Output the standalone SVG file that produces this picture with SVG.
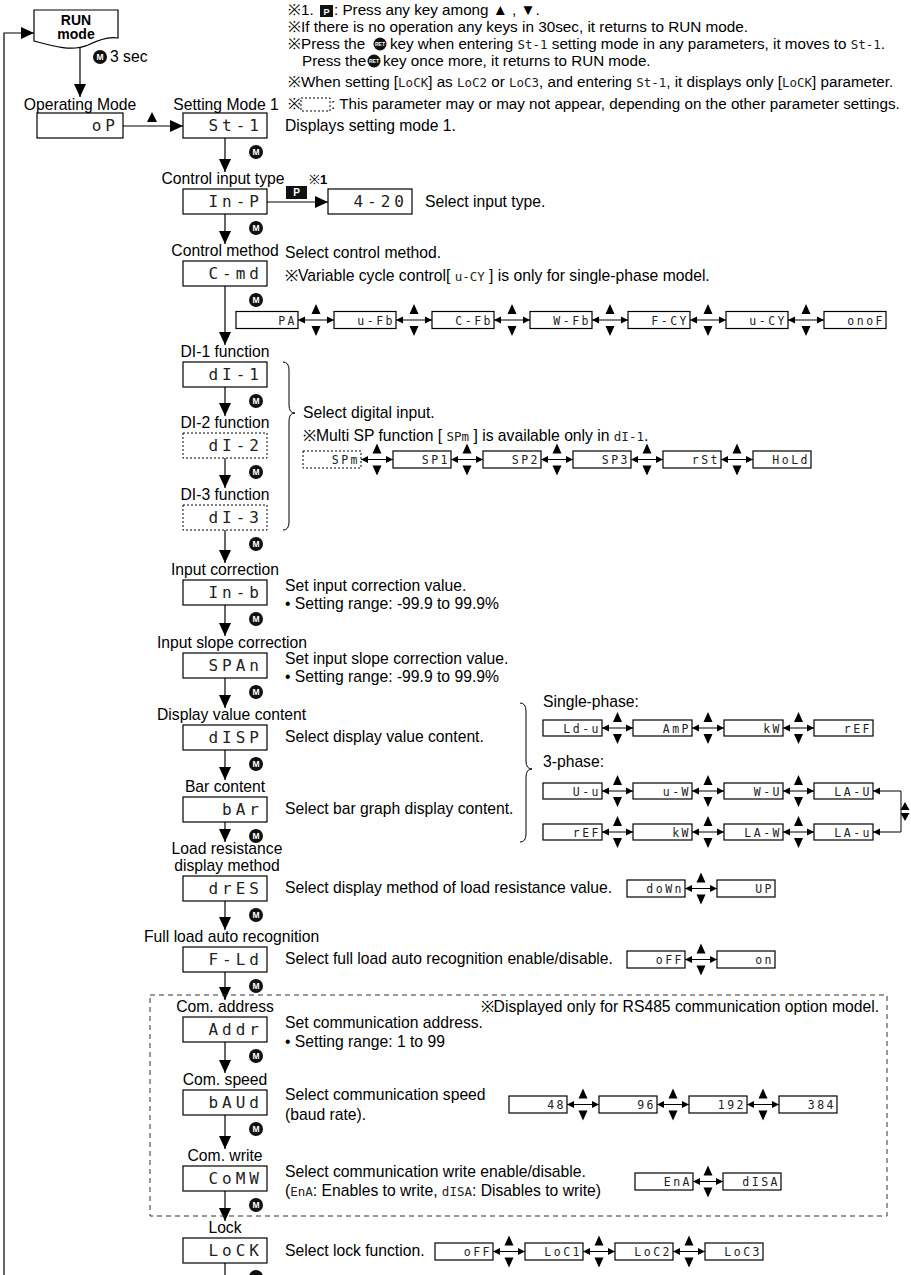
<svg xmlns="http://www.w3.org/2000/svg" xmlns:xlink="http://www.w3.org/1999/xlink" width="911" height="1275" viewBox="0 0 911 1275">
<style>
.bx{fill:#fff;stroke:#000;stroke-width:1.2}
.dt{fill:#fff;stroke:#000;stroke-width:1;stroke-dasharray:2 2}
.ln{fill:none;stroke:#000;stroke-width:1.2}
.dl{fill:none;stroke:#000;stroke-width:1}
.t{font-family:"Liberation Sans",Arial,sans-serif;font-size:15.7px;fill:#000}
.nt{font-family:"Liberation Sans",Arial,sans-serif;font-size:15.2px;fill:#000}
.c{text-anchor:middle}
.b{font-weight:bold}
.sg{font-family:"DejaVu Sans Mono",monospace;font-size:16px;letter-spacing:4px;text-anchor:end;fill:#222}
.so{font-family:"DejaVu Sans Mono",monospace;font-size:11.5px;letter-spacing:2.5px;text-anchor:end;fill:#222}
.si{font-family:"DejaVu Sans Mono",monospace;font-size:12.5px;fill:#222}
.mc{fill:#111}
.mt{font-family:"Liberation Sans",Arial,sans-serif;font-size:8.5px;font-weight:bold;fill:#fff;text-anchor:middle}
.rt{font-family:"Liberation Sans",Arial,sans-serif;font-size:5px;font-weight:bold;fill:#fff;text-anchor:middle}
.ah{fill:#000}
</style>
<defs>
<marker id="ah" markerUnits="userSpaceOnUse" markerWidth="14" markerHeight="12" refX="13" refY="6" orient="auto"><path d="M0,0 L13,6 L0,12 Z" class="ah"/></marker>
<marker id="as" markerUnits="userSpaceOnUse" markerWidth="8" markerHeight="8" refX="7" refY="4" orient="auto-start-reverse"><path d="M0,0.5 L7,4 L0,7.5 Z" class="ah"/></marker>
<path id="ud" d="M0,-16 L-4.5,-6 L4.5,-6 Z M0,16 L-4.5,6 L4.5,6 Z" class="ah"/>
</defs>
<rect width="911" height="1275" fill="#fff"/>

<!-- notes -->
<g id="notes" class="nt">
<text x="288" y="15">※1. <tspan x="334">: Press any key among ▲ , ▼.</tspan></text>
<rect x="320" y="5" width="13" height="12" fill="#111"/>
<text x="326.5" y="14.5" class="c b" style="font-family:'Liberation Sans',Arial,sans-serif;font-size:9px;fill:#fff">P</text>
<text x="288" y="32" textLength="460" lengthAdjust="spacingAndGlyphs">※If there is no operation any keys in 30sec, it returns to RUN mode.</text>
<text x="288" y="49">※Press the<tspan x="390">key when entering </tspan><tspan class="si">St-1</tspan> setting mode in any parameters, it moves to <tspan class="si">St-1</tspan>.</text>
<circle cx="380" cy="44" r="6.5" class="mc"/>
<text x="380" y="46" class="rt">RET</text>
<text x="302" y="66">Press the<tspan x="383">key once more, it returns to RUN mode.</tspan></text>
<circle cx="374" cy="61" r="6.5" class="mc"/>
<text x="374" y="63" class="rt">RET</text>
<text x="288" y="87">※When setting [<tspan class="si">LoCK</tspan>] as <tspan class="si">LoC2</tspan> or <tspan class="si">LoC3</tspan>, and entering <tspan class="si">St-1</tspan>, it displays only [<tspan class="si">LoCK</tspan>] parameter.</text>
<text x="288" y="109">※<tspan x="331">: This parameter may or may not appear, depending on the other parameter settings.</tspan></text>
<rect x="301" y="98" width="29" height="13" class="dt"/>
</g>

<!-- connectors -->
<g id="connectors">
<path class="ln" d="M4,1275 V33 H34" marker-end="url(#ah)"/>
<path class="ln" d="M80,47 V97" marker-end="url(#ah)"/>
<path class="ln" d="M123,126 H183" marker-end="url(#ah)"/>
<polygon points="152,112 147,122 157,122" class="ah"/>
<path class="ln" d="M225,138 V172" marker-end="url(#ah)"/>
<path class="ln" d="M267,202 H328" marker-end="url(#ah)"/>
<path class="ln" d="M225,214 V244" marker-end="url(#ah)"/>
<path class="ln" d="M225,286 V345" marker-end="url(#ah)"/>
<path class="ln" d="M225,387 V416" marker-end="url(#ah)"/>
<path class="ln" d="M225,458 V488" marker-end="url(#ah)"/>
<path class="ln" d="M225,530 V563" marker-end="url(#ah)"/>
<path class="ln" d="M225,605 V636" marker-end="url(#ah)"/>
<path class="ln" d="M225,678 V708" marker-end="url(#ah)"/>
<path class="ln" d="M225,750 V780" marker-end="url(#ah)"/>
<path class="ln" d="M225,822 V842" marker-end="url(#ah)"/>
<path class="ln" d="M225,901 V930" marker-end="url(#ah)"/>
<path class="ln" d="M225,972 V1000" marker-end="url(#ah)"/>
<path class="ln" d="M225,1042 V1073" marker-end="url(#ah)"/>
<path class="ln" d="M225,1115 V1149" marker-end="url(#ah)"/>
<path class="ln" d="M225,1191 V1221" marker-end="url(#ah)"/>
<path class="ln" d="M225,1263 V1275"/>
<g class="dl">
<line x1="298" y1="320" x2="334" y2="320" marker-start="url(#as)" marker-end="url(#as)"/>
<line x1="396" y1="320" x2="432" y2="320" marker-start="url(#as)" marker-end="url(#as)"/>
<line x1="494" y1="320" x2="530" y2="320" marker-start="url(#as)" marker-end="url(#as)"/>
<line x1="592" y1="320" x2="628" y2="320" marker-start="url(#as)" marker-end="url(#as)"/>
<line x1="690" y1="320" x2="726" y2="320" marker-start="url(#as)" marker-end="url(#as)"/>
<line x1="788" y1="320" x2="824" y2="320" marker-start="url(#as)" marker-end="url(#as)"/>
<line x1="361" y1="459.5" x2="393" y2="459.5" marker-start="url(#as)" marker-end="url(#as)"/>
<line x1="451" y1="459.5" x2="483" y2="459.5" marker-start="url(#as)" marker-end="url(#as)"/>
<line x1="541" y1="459.5" x2="573" y2="459.5" marker-start="url(#as)" marker-end="url(#as)"/>
<line x1="631" y1="459.5" x2="663" y2="459.5" marker-start="url(#as)" marker-end="url(#as)"/>
<line x1="721" y1="459.5" x2="753" y2="459.5" marker-start="url(#as)" marker-end="url(#as)"/>
<line x1="602" y1="728" x2="633" y2="728" marker-start="url(#as)" marker-end="url(#as)"/>
<line x1="692" y1="728" x2="724" y2="728" marker-start="url(#as)" marker-end="url(#as)"/>
<line x1="783" y1="728" x2="814" y2="728" marker-start="url(#as)" marker-end="url(#as)"/>
<line x1="602" y1="791" x2="633" y2="791" marker-start="url(#as)" marker-end="url(#as)"/>
<line x1="692" y1="791" x2="724" y2="791" marker-start="url(#as)" marker-end="url(#as)"/>
<line x1="783" y1="791" x2="814" y2="791" marker-start="url(#as)" marker-end="url(#as)"/>
<line x1="602" y1="832" x2="633" y2="832" marker-start="url(#as)" marker-end="url(#as)"/>
<line x1="692" y1="832" x2="724" y2="832" marker-start="url(#as)" marker-end="url(#as)"/>
<line x1="783" y1="832" x2="814" y2="832" marker-start="url(#as)" marker-end="url(#as)"/>
<path d="M873,791 H901 V832 H873" marker-start="url(#as)" marker-end="url(#as)"/>
<line x1="685" y1="888.5" x2="717" y2="888.5" marker-start="url(#as)" marker-end="url(#as)"/>
<line x1="685" y1="959.5" x2="717" y2="959.5" marker-start="url(#as)" marker-end="url(#as)"/>
<line x1="567" y1="1104.5" x2="599" y2="1104.5" marker-start="url(#as)" marker-end="url(#as)"/>
<line x1="657" y1="1104.5" x2="689" y2="1104.5" marker-start="url(#as)" marker-end="url(#as)"/>
<line x1="747" y1="1104.5" x2="779" y2="1104.5" marker-start="url(#as)" marker-end="url(#as)"/>
<line x1="693" y1="1181.5" x2="723" y2="1181.5" marker-start="url(#as)" marker-end="url(#as)"/>
<line x1="493" y1="1251.5" x2="525" y2="1251.5" marker-start="url(#as)" marker-end="url(#as)"/>
<line x1="583" y1="1251.5" x2="615" y2="1251.5" marker-start="url(#as)" marker-end="url(#as)"/>
<line x1="673" y1="1251.5" x2="705" y2="1251.5" marker-start="url(#as)" marker-end="url(#as)"/>
</g>
<use href="#ud" x="316" y="320"/><use href="#ud" x="414" y="320"/><use href="#ud" x="512" y="320"/><use href="#ud" x="610" y="320"/><use href="#ud" x="708" y="320"/><use href="#ud" x="806" y="320"/>
<use href="#ud" x="377" y="459.5"/><use href="#ud" x="467" y="459.5"/><use href="#ud" x="557" y="459.5"/><use href="#ud" x="647" y="459.5"/><use href="#ud" x="737" y="459.5"/>
<use href="#ud" x="617.5" y="728"/><use href="#ud" x="708" y="728"/><use href="#ud" x="798.5" y="728"/>
<use href="#ud" x="617.5" y="791"/><use href="#ud" x="708" y="791"/><use href="#ud" x="798.5" y="791"/>
<use href="#ud" x="617.5" y="832"/><use href="#ud" x="708" y="832"/><use href="#ud" x="798.5" y="832"/>
<polygon points="905,802 900.5,810 909.5,810" class="ah"/><polygon points="905,821 900.5,813 909.5,813" class="ah"/>
<use href="#ud" x="701" y="888.5"/>
<use href="#ud" x="701" y="959.5"/>
<use href="#ud" x="583" y="1104.5"/><use href="#ud" x="673" y="1104.5"/><use href="#ud" x="763" y="1104.5"/>
<use href="#ud" x="708" y="1181.5"/>
<use href="#ud" x="509" y="1251.5"/><use href="#ud" x="599" y="1251.5"/><use href="#ud" x="689" y="1251.5"/>
<path class="dl" d="M283,362 Q289,362 289,370 V405 Q289,413 295,413 Q289,413 289,421 V522 Q289,530 283,530"/>
<path class="dl" d="M520,703 Q526,703 526,711 V761 Q526,769 532,769 Q526,769 526,777 V834 Q526,842 520,842"/>
<rect x="150" y="995" width="737" height="221" fill="none" stroke="#333" stroke-width="1" stroke-dasharray="5 4"/>
</g>

<!-- M key circles -->
<g id="mkeys">
<circle cx="100" cy="57" r="7" class="mc"/><text x="100" y="60" class="mt">M</text>
<circle cx="256" cy="152" r="7" class="mc"/><text x="256" y="155" class="mt">M</text>
<circle cx="256" cy="228" r="7" class="mc"/><text x="256" y="231" class="mt">M</text>
<circle cx="256" cy="300" r="7" class="mc"/><text x="256" y="303" class="mt">M</text>
<circle cx="256" cy="401" r="7" class="mc"/><text x="256" y="404" class="mt">M</text>
<circle cx="256" cy="472" r="7" class="mc"/><text x="256" y="475" class="mt">M</text>
<circle cx="256" cy="544" r="7" class="mc"/><text x="256" y="547" class="mt">M</text>
<circle cx="256" cy="619" r="7" class="mc"/><text x="256" y="622" class="mt">M</text>
<circle cx="256" cy="692" r="7" class="mc"/><text x="256" y="695" class="mt">M</text>
<circle cx="256" cy="764" r="7" class="mc"/><text x="256" y="767" class="mt">M</text>
<circle cx="256" cy="836" r="7" class="mc"/><text x="256" y="839" class="mt">M</text>
<circle cx="256" cy="915" r="7" class="mc"/><text x="256" y="918" class="mt">M</text>
<circle cx="256" cy="986" r="7" class="mc"/><text x="256" y="989" class="mt">M</text>
<circle cx="256" cy="1056" r="7" class="mc"/><text x="256" y="1059" class="mt">M</text>
<circle cx="256" cy="1129" r="7" class="mc"/><text x="256" y="1132" class="mt">M</text>
<circle cx="256" cy="1205" r="7" class="mc"/><text x="256" y="1208" class="mt">M</text>
<circle cx="256" cy="1277" r="7" class="mc"/>
</g>

<!-- main nodes -->
<g id="n-run">
<path d="M34,10 H118 V38 C108,36 98,40 88,45 C72,52 52,46 34,41 Z" class="bx"/>
<text x="76" y="25" class="t c b" style="font-size:14px">RUN</text>
<text x="76" y="39" class="t c b" style="font-size:14px">mode</text>
<text x="110" y="62" class="t">3 sec</text>
</g>
<g id="n-op">
<text x="80" y="110" class="t c">Operating Mode</text>
<rect x="37" y="113" width="86" height="25" class="bx"/>
<text x="119" y="131" class="sg">oP</text>
</g>
<g id="n-st1">
<text x="226" y="110" class="t c">Setting Mode 1</text>
<rect x="183" y="113" width="84" height="25" class="bx"/>
<text x="263" y="131" class="sg">St-1</text>
<text x="285" y="131" class="t">Displays setting mode 1.</text>
</g>
<g id="n-inp">
<text x="223" y="184" class="t c">Control input type</text>
<text x="309" y="184" class="t" style="font-size:13px">※<tspan class="b">1</tspan></text>
<rect x="286" y="186" width="21" height="13" fill="#111"/>
<text x="296.5" y="196" class="c b" style="font-family:'Liberation Sans',Arial,sans-serif;font-size:10px;fill:#fff">P</text>
<rect x="183" y="189" width="84" height="25" class="bx"/>
<text x="263" y="207" class="sg">In-P</text>
</g>
<g id="n-420">
<rect x="328" y="189" width="84" height="25" class="bx"/>
<text x="408" y="207" class="sg">4-20</text>
<text x="425" y="207" class="t">Select input type.</text>
</g>
<g id="n-cmd">
<text x="225" y="256" class="t c">Control method</text>
<rect x="183" y="261" width="84" height="25" class="bx"/>
<text x="263" y="279" class="sg">C-md</text>
<text x="285" y="258" class="t">Select control method.</text>
<text x="285" y="281" class="t">※Variable cycle control[ <tspan class="si">u-CY</tspan> ] is only for single-phase model.</text>
</g>
<g id="o-pa"><rect x="236" y="311.5" width="62" height="17" class="bx"/><text x="297" y="324.5" class="so">PA</text></g>
<g id="o-ufb"><rect x="334" y="311.5" width="62" height="17" class="bx"/><text x="395" y="324.5" class="so">u-Fb</text></g>
<g id="o-cfb"><rect x="432" y="311.5" width="62" height="17" class="bx"/><text x="493" y="324.5" class="so">C-Fb</text></g>
<g id="o-wfb"><rect x="530" y="311.5" width="62" height="17" class="bx"/><text x="591" y="324.5" class="so">W-Fb</text></g>
<g id="o-fcy"><rect x="628" y="311.5" width="62" height="17" class="bx"/><text x="689" y="324.5" class="so">F-CY</text></g>
<g id="o-ucy"><rect x="726" y="311.5" width="62" height="17" class="bx"/><text x="787" y="324.5" class="so">u-CY</text></g>
<g id="o-onof"><rect x="824" y="311.5" width="62" height="17" class="bx"/><text x="885" y="324.5" class="so">onoF</text></g>

<g id="n-di1">
<text x="225" y="357" class="t c">DI-1 function</text>
<rect x="183" y="362" width="84" height="25" class="bx"/>
<text x="263" y="380" class="sg">dI-1</text>
</g>
<g id="n-di2">
<text x="225" y="428" class="t c">DI-2 function</text>
<rect x="183" y="433" width="84" height="25" class="dt"/>
<text x="263" y="451" class="sg">dI-2</text>
</g>
<g id="n-di3">
<text x="225" y="500" class="t c">DI-3 function</text>
<rect x="183" y="505" width="84" height="25" class="dt"/>
<text x="263" y="523" class="sg">dI-3</text>
</g>
<g id="di-text">
<text x="303" y="418" class="t">Select digital input.</text>
<text x="303" y="441" class="t">※Multi SP function [ <tspan class="si">SPm</tspan> ] is available only in <tspan class="si">dI-1</tspan>.</text>
</g>
<g id="o-spm"><rect x="303" y="451" width="58" height="17" class="dt"/><text x="360" y="464" class="so">SPm</text></g>
<g id="o-sp1"><rect x="393" y="451" width="58" height="17" class="bx"/><text x="450" y="464" class="so">SP1</text></g>
<g id="o-sp2"><rect x="483" y="451" width="58" height="17" class="bx"/><text x="540" y="464" class="so">SP2</text></g>
<g id="o-sp3"><rect x="573" y="451" width="58" height="17" class="bx"/><text x="630" y="464" class="so">SP3</text></g>
<g id="o-rst"><rect x="663" y="451" width="58" height="17" class="bx"/><text x="720" y="464" class="so">rSt</text></g>
<g id="o-hold"><rect x="753" y="451" width="58" height="17" class="bx"/><text x="810" y="464" class="so">HoLd</text></g>

<g id="n-inb">
<text x="225" y="575" class="t c">Input correction</text>
<rect x="183" y="580" width="84" height="25" class="bx"/>
<text x="263" y="598" class="sg">In-b</text>
<text x="285" y="591" class="t">Set input correction value.</text>
<text x="285" y="609" class="t">• Setting range: -99.9 to 99.9%</text>
</g>
<g id="n-span">
<text x="157" y="648" class="t">Input slope correction</text>
<rect x="183" y="653" width="84" height="25" class="bx"/>
<text x="263" y="671" class="sg">SPAn</text>
<text x="285" y="664" class="t">Set input slope correction value.</text>
<text x="285" y="682" class="t">• Setting range: -99.9 to 99.9%</text>
</g>
<g id="n-disp">
<text x="157" y="720" class="t">Display value content</text>
<rect x="183" y="725" width="84" height="25" class="bx"/>
<text x="263" y="743" class="sg">dISP</text>
<text x="285" y="742" class="t">Select display value content.</text>
</g>
<g id="n-bar">
<text x="225" y="792" class="t c">Bar content</text>
<rect x="183" y="797" width="84" height="25" class="bx"/>
<text x="263" y="815" class="sg">bAr</text>
<text x="285" y="814" class="t">Select bar graph display content.</text>
</g>
<g id="disp-text">
<text x="543" y="707" class="t">Single-phase:</text>
<text x="543" y="767" class="t">3-phase:</text>
</g>
<g id="o-ldu"><rect x="543" y="720" width="59" height="16" class="bx"/><text x="601" y="732.5" class="so">Ld-u</text></g>
<g id="o-amp"><rect x="633" y="720" width="59" height="16" class="bx"/><text x="691" y="732.5" class="so">AmP</text></g>
<g id="o-kw1"><rect x="724" y="720" width="59" height="16" class="bx"/><text x="782" y="732.5" class="so">kW</text></g>
<g id="o-ref1"><rect x="814" y="720" width="59" height="16" class="bx"/><text x="872" y="732.5" class="so">rEF</text></g>
<g id="o-uu"><rect x="543" y="783" width="59" height="16" class="bx"/><text x="601" y="795.5" class="so">U-u</text></g>
<g id="o-uw"><rect x="633" y="783" width="59" height="16" class="bx"/><text x="691" y="795.5" class="so">u-W</text></g>
<g id="o-wu"><rect x="724" y="783" width="59" height="16" class="bx"/><text x="782" y="795.5" class="so">W-U</text></g>
<g id="o-lau"><rect x="814" y="783" width="59" height="16" class="bx"/><text x="872" y="795.5" class="so">LA-U</text></g>
<g id="o-ref3"><rect x="543" y="824" width="59" height="16" class="bx"/><text x="601" y="836.5" class="so">rEF</text></g>
<g id="o-kw3"><rect x="633" y="824" width="59" height="16" class="bx"/><text x="691" y="836.5" class="so">kW</text></g>
<g id="o-law"><rect x="724" y="824" width="59" height="16" class="bx"/><text x="782" y="836.5" class="so">LA-W</text></g>
<g id="o-lav"><rect x="814" y="824" width="59" height="16" class="bx"/><text x="872" y="836.5" class="so">LA-u</text></g>

<g id="n-dres">
<text x="227" y="854" class="t c">Load resistance</text>
<text x="227" y="871" class="t c">display method</text>
<rect x="183" y="876" width="84" height="25" class="bx"/>
<text x="263" y="894" class="sg">drES</text>
<text x="285" y="893" class="t">Select display method of load resistance value.</text>
</g>
<g id="o-down"><rect x="627" y="880" width="58" height="17" class="bx"/><text x="684" y="893" class="so">doWn</text></g>
<g id="o-up"><rect x="717" y="880" width="58" height="17" class="bx"/><text x="774" y="893" class="so">UP</text></g>

<g id="n-fld">
<text x="144" y="942" class="t">Full load auto recognition</text>
<rect x="183" y="947" width="84" height="25" class="bx"/>
<text x="263" y="965" class="sg">F-Ld</text>
<text x="285" y="964" class="t">Select full load auto recognition enable/disable.</text>
</g>
<g id="o-off1"><rect x="627" y="951" width="58" height="17" class="bx"/><text x="684" y="964" class="so">oFF</text></g>
<g id="o-on"><rect x="717" y="951" width="58" height="17" class="bx"/><text x="774" y="964" class="so">on</text></g>

<g id="rs485-note"><text x="879" y="1012" class="t" text-anchor="end">※Displayed only for RS485 communication option model.</text></g>
<g id="n-addr">
<text x="225" y="1012" class="t c">Com. address</text>
<rect x="183" y="1017" width="84" height="25" class="bx"/>
<text x="263" y="1035" class="sg">Addr</text>
<text x="285" y="1028" class="t">Set communication address.</text>
<text x="285" y="1047" class="t">• Setting range: 1 to 99</text>
</g>
<g id="n-baud">
<text x="225" y="1085" class="t c">Com. speed</text>
<rect x="183" y="1090" width="84" height="25" class="bx"/>
<text x="263" y="1108" class="sg">bAUd</text>
<text x="285" y="1100" class="t">Select communication speed</text>
<text x="285" y="1120" class="t">(baud rate).</text>
</g>
<g id="o-48"><rect x="509" y="1096" width="58" height="17" class="bx"/><text x="566" y="1109" class="so">48</text></g>
<g id="o-96"><rect x="599" y="1096" width="58" height="17" class="bx"/><text x="656" y="1109" class="so">96</text></g>
<g id="o-192"><rect x="689" y="1096" width="58" height="17" class="bx"/><text x="746" y="1109" class="so">192</text></g>
<g id="o-384"><rect x="779" y="1096" width="58" height="17" class="bx"/><text x="836" y="1109" class="so">384</text></g>
<g id="n-comw">
<text x="225" y="1161" class="t c">Com. write</text>
<rect x="183" y="1166" width="84" height="25" class="bx"/>
<text x="263" y="1184" class="sg">CoMW</text>
<text x="285" y="1177" class="t">Select communication write enable/disable.</text>
<text x="285" y="1196" class="t">(<tspan class="si">EnA</tspan>: Enables to write, <tspan class="si">dISA</tspan>: Disables to write)</text>
</g>
<g id="o-ena"><rect x="635" y="1173" width="58" height="17" class="bx"/><text x="692" y="1186" class="so">EnA</text></g>
<g id="o-disa"><rect x="723" y="1173" width="58" height="17" class="bx"/><text x="780" y="1186" class="so">dISA</text></g>
<g id="n-lock">
<text x="225" y="1233" class="t c">Lock</text>
<rect x="183" y="1238" width="84" height="25" class="bx"/>
<text x="263" y="1256" class="sg">LoCK</text>
<text x="285" y="1256" class="t">Select lock function.</text>
</g>
<g id="o-off2"><rect x="435" y="1243" width="58" height="17" class="bx"/><text x="492" y="1256" class="so">oFF</text></g>
<g id="o-loc1"><rect x="525" y="1243" width="58" height="17" class="bx"/><text x="582" y="1256" class="so">LoC1</text></g>
<g id="o-loc2"><rect x="615" y="1243" width="58" height="17" class="bx"/><text x="672" y="1256" class="so">LoC2</text></g>
<g id="o-loc3"><rect x="705" y="1243" width="58" height="17" class="bx"/><text x="762" y="1256" class="so">LoC3</text></g>
</svg>
